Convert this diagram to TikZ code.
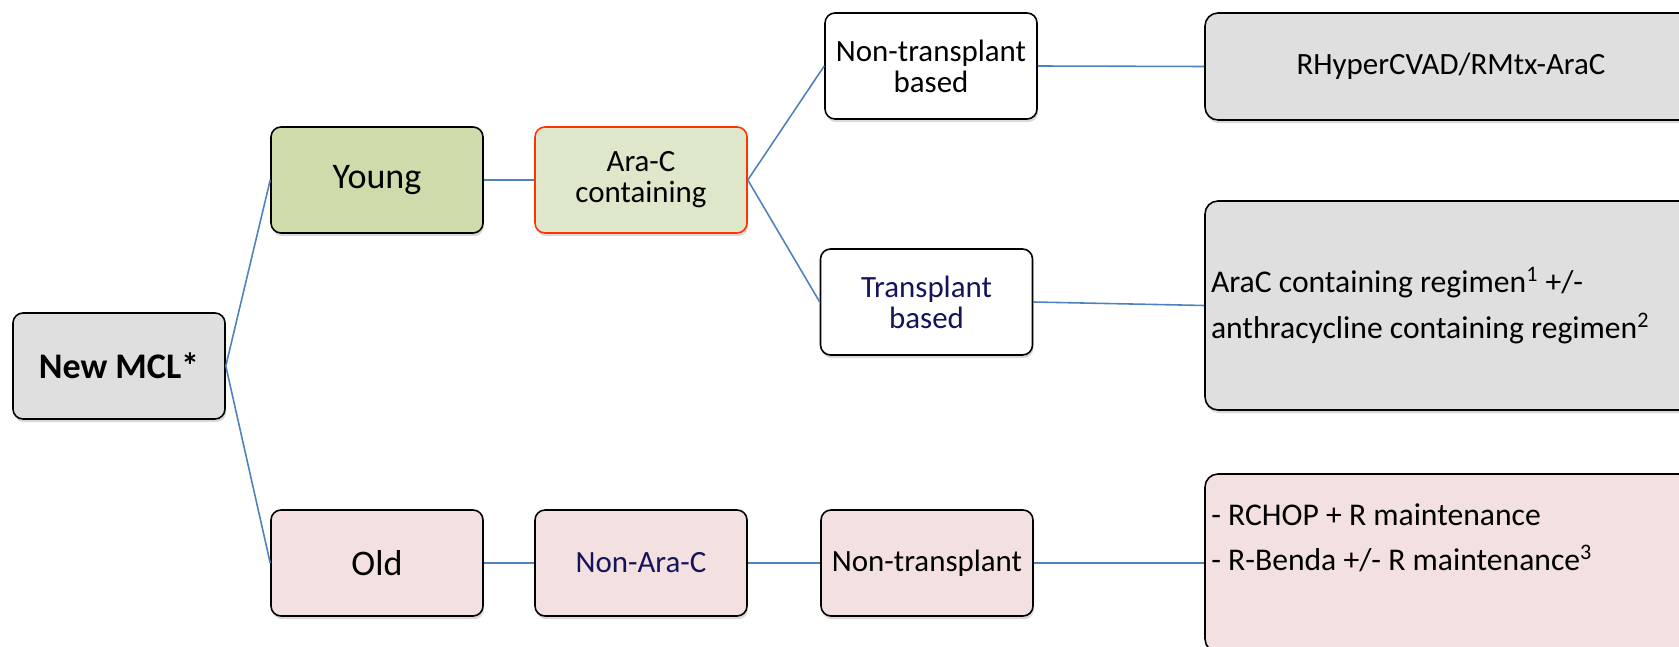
\documentclass[tikz,border=0pt]{standalone}
\usepackage{fontspec}
\setmainfont{Carlito}
\usetikzlibrary{shadows}

\definecolor{boxgray}{RGB}{223,223,223}
\definecolor{younggreen}{RGB}{205,220,170}
\definecolor{aracgreen}{RGB}{222,231,202}
\definecolor{aracred}{RGB}{255,51,0}
\definecolor{oldpink}{RGB}{242,225,224}
\definecolor{navy}{RGB}{20,20,90}
\definecolor{linkblue}{RGB}{79,129,189}

\begin{document}
\begin{tikzpicture}[
  box/.style={draw,line width=.9pt,rounded corners=.2cm,minimum width=4.24cm,minimum height=2.12cm,
    align=center,inner sep=1pt,font=\fontsize{17.6}{17.6}\selectfont,
    drop shadow={shadow xshift=.6pt,shadow yshift=-1.8pt,opacity=.3}},
  bigtxt/.style={font=\fontsize{20.5}{24}\selectfont},
  wide/.style={box,minimum width=9.84cm,rounded corners=.26cm},
  regtxt/.style={font=\fontsize{18}{26}\selectfont},
  link/.style={draw=linkblue,line width=.9pt}]
\clip (0,0) rectangle (33.58,-12.94);
% left part of the tree
\node[box,bigtxt,fill=boxgray] (mcl) at (2.38,-7.32) {\bfseries New MCL*};
\node[box,bigtxt,fill=younggreen] (young) at (7.54,-3.60) {Young};
\node[box,fill=aracgreen,draw=aracred] (arac) at (12.82,-3.60) {Ara-C\\containing};
\node[box,fill=white] (ntb) at (18.62,-1.32) {Non-transplant\\based};
\node[box,fill=white,text=navy] (tb) at (18.53,-6.04) {Transplant\\based};
\node[box,bigtxt,fill=oldpink] (old) at (7.54,-11.26) {Old};
\node[box,fill=oldpink,text=navy] (nonarac) at (12.82,-11.26) {Non-Ara-C};
\node[box,fill=oldpink] (nt) at (18.54,-11.26) {Non-transplant};
% regimens
\node[wide,fill=boxgray,minimum height=2.14cm] (hyper) at (29.02,-1.33) {RHyperCVAD/RMtx-AraC};
\node[wide,regtxt,fill=boxgray,minimum height=4.18cm,align=flush left,text width=9.6cm] (transreg) at (29.02,-6.11)
  {AraC containing regimen\textsuperscript{1} +/-\\anthracycline containing regimen\textsuperscript{2}};
\node[wide,fill=oldpink,minimum height=3.56cm] (oldreg) at (29.02,-11.26) {};
\node[regtxt,anchor=north west,align=left,inner sep=0pt] (oldtxt) at (24.22,-10.06)
  {- RCHOP + R maintenance\\- R-Benda +/- R maintenance\textsuperscript{3}};
% connectors
\draw[link] (mcl.east) -- (young.west);
\draw[link] (mcl.east) -- (old.west);
\draw[link] (young) -- (arac);
\draw[link] (arac.east) -- (ntb.west);
\draw[link] (arac.east) -- (tb.west);
\draw[link] (ntb.east) -- (hyper.west);
\draw[link] (tb.east) -- (transreg.west);
\draw[link] (old) -- (nonarac);
\draw[link] (nonarac) -- (nt);
\draw[link] (nt) -- (oldreg);
\end{tikzpicture}
\end{document}
